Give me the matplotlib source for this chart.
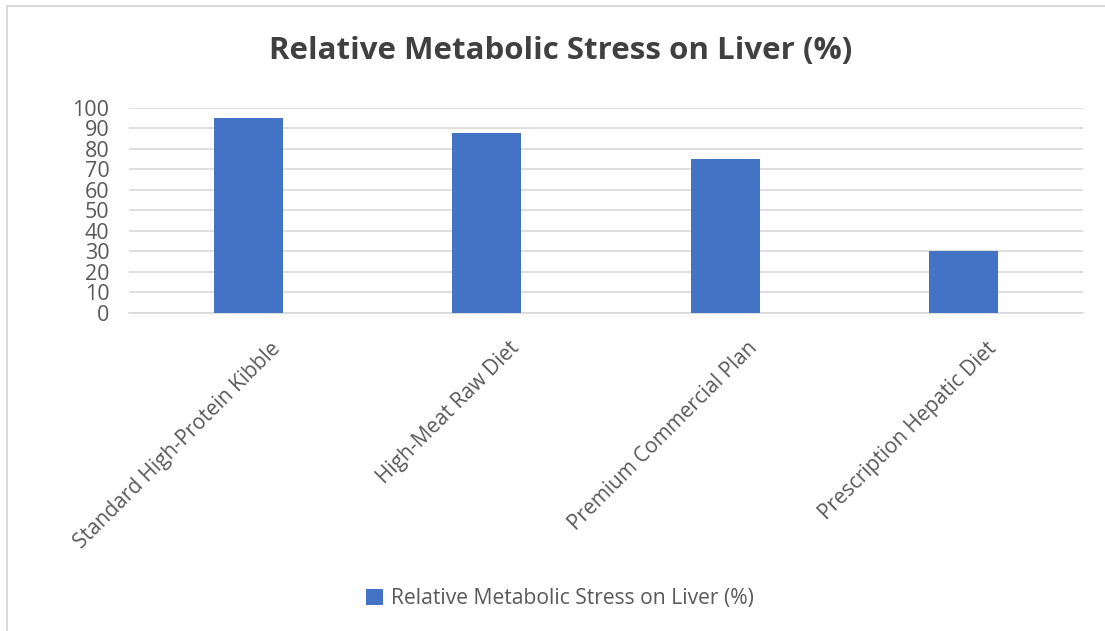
import matplotlib.pyplot as plt
import matplotlib.transforms as mtransforms
from matplotlib.patches import Rectangle

plt.rcParams['font.family'] = ['Open Sans', 'DejaVu Sans']

categories = ['Standard High-Protein Kibble', 'High-Meat Raw Diet',
              'Premium Commercial Plan', 'Prescription Hepatic Diet']
values = [95, 88, 75, 30]
series_name = 'Relative Metabolic Stress on Liver (%)'

text_color = '#595959'
bar_color = '#4472C4'
grid_color = '#D9D9D9'

fig = plt.figure(figsize=(11.05, 6.31), dpi=100)
ax = fig.add_axes([0.1167, 0.504, 0.8633, 0.325])

# chart frame
fig.patches.append(Rectangle((7 / 1105, -0.1), 1.2, 1.1 - 6 / 631,
                             transform=fig.transFigure, fill=False,
                             edgecolor=grid_color, linewidth=1.5))

x = range(len(categories))
ax.bar(x, values, width=0.29, color=bar_color, label=series_name, zorder=3)

ax.set_xlim(-0.5, len(categories) - 0.5)
ax.set_ylim(0, 100)
ax.set_yticks(range(0, 101, 10))
ax.grid(axis='y', color=grid_color, linewidth=1.2, zorder=0)
ax.set_xticks(list(x))
ax.set_xticklabels(categories, rotation=45, ha='right', rotation_mode='anchor',
                   fontsize=15, color=text_color)
ax.tick_params(axis='y', labelsize=15.5, labelcolor=text_color, length=0, pad=14)
ax.tick_params(axis='x', length=0, pad=18)
# shift the slanted labels so they start right of the tick, as Excel does
shift = mtransforms.ScaledTranslation(0.22, 0, fig.dpi_scale_trans)
for lab in ax.get_xticklabels():
    lab.set_transform(lab.get_transform() + shift)
for side in ['top', 'right', 'left']:
    ax.spines[side].set_visible(False)
ax.spines['bottom'].set_color(grid_color)
ax.spines['bottom'].set_linewidth(1.2)

fig.text(0.507, 0.919, 'Relative Metabolic Stress on Liver (%)', ha='center',
         va='center', fontsize=22.5, fontweight='bold', color='#404040')

fig.legend(loc='center', bbox_to_anchor=(0.507, 0.051), frameon=False,
           fontsize=15.2, labelcolor=text_color, handlelength=0.8,
           handleheight=0.8, handletextpad=0.4)

fig.savefig('out.png', dpi=100)
